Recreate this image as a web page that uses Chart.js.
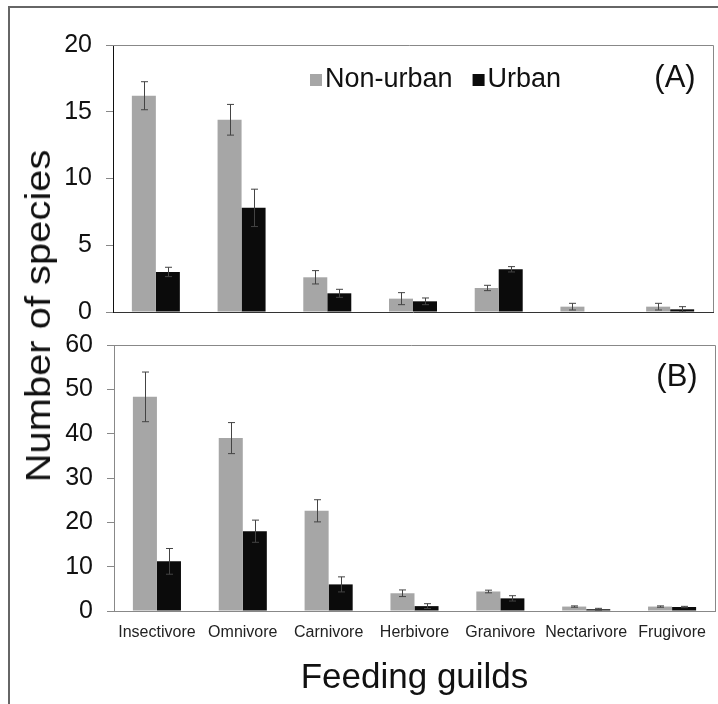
<!DOCTYPE html>
<html>
<head>
<meta charset="utf-8">
<script src="https://cdn.jsdelivr.net/npm/chart.js@4/dist/chart.umd.min.js"></script>
<style>
  body { margin: 0; background: #fff; }
  #wrap { position: relative; width: 718px; height: 704px; overflow: hidden; font-family: 'Liberation Sans', Arial, sans-serif; }
  #frame { position: absolute; left: 8px; top: 6px; width: 800px; height: 800px; border-left: 2px solid #666; border-top: 2px solid #666; }
  #chartA { position: absolute; left: 0; top: 0; }
  #chartB { position: absolute; left: 0; top: 330px; }
  #ytitle { position: absolute; left: 38px; top: 316px; white-space: nowrap; font-size: 35px; color: #111;
            transform: translate(-50%, -50%) rotate(-90deg) scaleX(1.14); }
</style>
</head>
<body>
<div id="wrap">
  <div id="frame"></div>
  <canvas id="chartA" width="718" height="330"></canvas>
  <canvas id="chartB" width="718" height="374"></canvas>
  <div id="ytitle">Number of species</div>
</div>
<script>
const guilds = ['Insectivore', 'Omnivore', 'Carnivore', 'Herbivore', 'Granivore', 'Nectarivore', 'Frugivore'];
const seriesNames = ['Non-urban', 'Urban'];

// panel A
const nonUrbanA = [16.2, 14.4, 2.6, 1.0, 1.8, 0.4, 0.4];
const nonUrbanErrA = [1.05, 1.15, 0.5, 0.45, 0.2, 0.25, 0.25];
const urbanA = [3.0, 7.8, 1.4, 0.8, 3.2, 0, 0.2];
const urbanErrA = [0.35, 1.4, 0.3, 0.25, 0.2, 0, 0.2];

// panel B
const nonUrbanB = [48.3, 39.0, 22.6, 4.0, 4.4, 1.0, 1.0];
const nonUrbanErrB = [5.6, 3.5, 2.5, 0.75, 0.3, 0.15, 0.15];
const urbanB = [11.2, 18.0, 6.0, 1.1, 2.85, 0.4, 0.9];
const urbanErrB = [2.9, 2.5, 1.7, 0.55, 0.6, 0.2, 0.15];

const ticksA = [0, 5, 10, 15, 20];
const ticksB = [0, 10, 20, 30, 40, 50, 60];

const FONT = "'Liberation Sans', Arial, sans-serif";
const GREY = '#a6a6a6';
const BLACK = '#0b0b0b';
const FRAME = '#888';

// error bars, drawn with the chart's own scales
const errorBars = {
    id: 'errorBars',
    afterDatasetsDraw(chart) {
        const ctx = chart.ctx;
        const y = chart.scales.y;
        ctx.save();
        ctx.strokeStyle = '#444';
        ctx.lineWidth = 1;
        chart.data.datasets.forEach((ds, i) => {
            const meta = chart.getDatasetMeta(i);
            meta.data.forEach((bar, j) => {
                const e = ds.errors[j];
                if (!e) return;
                const v = ds.data[j];
                const x = Math.round(bar.x) + 0.5;
                const top = y.getPixelForValue(v + e);
                const bot = y.getPixelForValue(v - e);
                ctx.beginPath();
                ctx.moveTo(x, top); ctx.lineTo(x, bot);
                ctx.moveTo(x - 3.5, top); ctx.lineTo(x + 3.5, top);
                ctx.moveTo(x - 3.5, bot); ctx.lineTo(x + 3.5, bot);
                ctx.stroke();
            });
        });
        ctx.restore();
    }
};

// top and right edges of the plot box, panel letter and legend
const boxExtras = {
    id: 'boxExtras',
    beforeDatasetsDraw(chart, args, opts) {
        const ctx = chart.ctx;
        const a = chart.chartArea;
        ctx.save();
        ctx.strokeStyle = FRAME;
        ctx.lineWidth = 1;
        ctx.beginPath();
        ctx.moveTo(a.left - 7, a.top + 0.5); ctx.lineTo(a.right + 0.5, a.top + 0.5);
        ctx.lineTo(a.right + 0.5, a.bottom);
        ctx.stroke();
        ctx.restore();
    },
    afterDraw(chart, args, opts) {
        const ctx = chart.ctx;
        const a = chart.chartArea;
        ctx.save();
        ctx.fillStyle = '#111';
        ctx.textBaseline = 'middle';
        ctx.font = '31px ' + FONT;
        ctx.textAlign = 'center';
        ctx.fillText(opts.letter, a.right - 38, a.top + opts.letterY);
        if (opts.legend) {
            ctx.font = '27px ' + FONT;
            ctx.textAlign = 'left';
            let x = opts.legendX;
            chart.data.datasets.forEach(ds => {
                ctx.fillStyle = ds.backgroundColor;
                ctx.fillRect(x, a.top + 29, 12, 12);
                ctx.fillStyle = '#111';
                ctx.fillText(ds.label, x + 15, a.top + 35);
                x += 15 + ctx.measureText(ds.label).width + 20;
            });
        }
        ctx.restore();
    }
};

function makeChart(id, nonUrban, nonUrbanErr, urban, urbanErr, tickVals, opts) {
    const ctx = document.getElementById(id).getContext('2d');
    return new Chart(ctx, {
        type: 'bar',
        data: {
            labels: guilds,
            datasets: [
                { label: seriesNames[0], data: nonUrban, errors: nonUrbanErr, backgroundColor: GREY },
                { label: seriesNames[1], data: urban, errors: urbanErr, backgroundColor: BLACK }
            ]
        },
        options: {
            responsive: false,
            animation: false,
            layout: { padding: { left: 0, right: opts.padRight, top: opts.padTop, bottom: 0 } },
            datasets: { bar: { barPercentage: 1, categoryPercentage: 0.56 } },
            plugins: {
                legend: { display: false },
                tooltip: { enabled: false },
                boxExtras: opts
            },
            scales: {
                x: {
                    grid: { display: false, drawTicks: false },
                    border: { display: true, color: opts.bottomColor, width: 1 },
                    ticks: {
                        display: opts.showLabels, color: '#222', padding: 12,
                        maxRotation: 0, autoSkip: false, font: { family: FONT, size: 16 }
                    },
                    title: {
                        display: opts.showLabels, text: 'Feeding guilds', color: '#111',
                        font: { family: FONT, size: 35 }, padding: { top: 0, bottom: 5 }
                    },
                    afterFit: s => {
                        s.height = opts.xHeight;
                        s.paddingLeft = 0; s.paddingRight = 0;
                    }
                },
                y: {
                    min: tickVals[0],
                    max: tickVals[tickVals.length - 1],
                    afterBuildTicks: s => { s.ticks = tickVals.map(v => ({ value: v })); },
                    grid: { drawOnChartArea: false, drawTicks: true, tickLength: 7, color: FRAME },
                    border: { display: true, color: opts.leftColor, width: 1 },
                    ticks: { color: '#111', padding: 14, font: { family: FONT, size: 25 } },
                    afterFit: s => {
                        s.width = opts.yWidth;
                        s.paddingTop = 0; s.paddingBottom = 0;
                    }
                }
            }
        },
        plugins: [errorBars, boxExtras]
    });
}

makeChart('chartA', nonUrbanA, nonUrbanErrA, urbanA, urbanErrA, ticksA, {
    padTop: 45, padRight: 5, xHeight: 18, yWidth: 113,
    showLabels: false, bottomColor: '#333', leftColor: '#111',
    letter: '(A)', letterY: 33, legend: true, legendX: 310
});

makeChart('chartB', nonUrbanB, nonUrbanErrB, urbanB, urbanErrB, ticksB, {
    padTop: 15, padRight: 3, xHeight: 93, yWidth: 114,
    showLabels: true, bottomColor: FRAME, leftColor: FRAME,
    letter: '(B)', letterY: 32, legend: false
});
</script>
</body>
</html>
